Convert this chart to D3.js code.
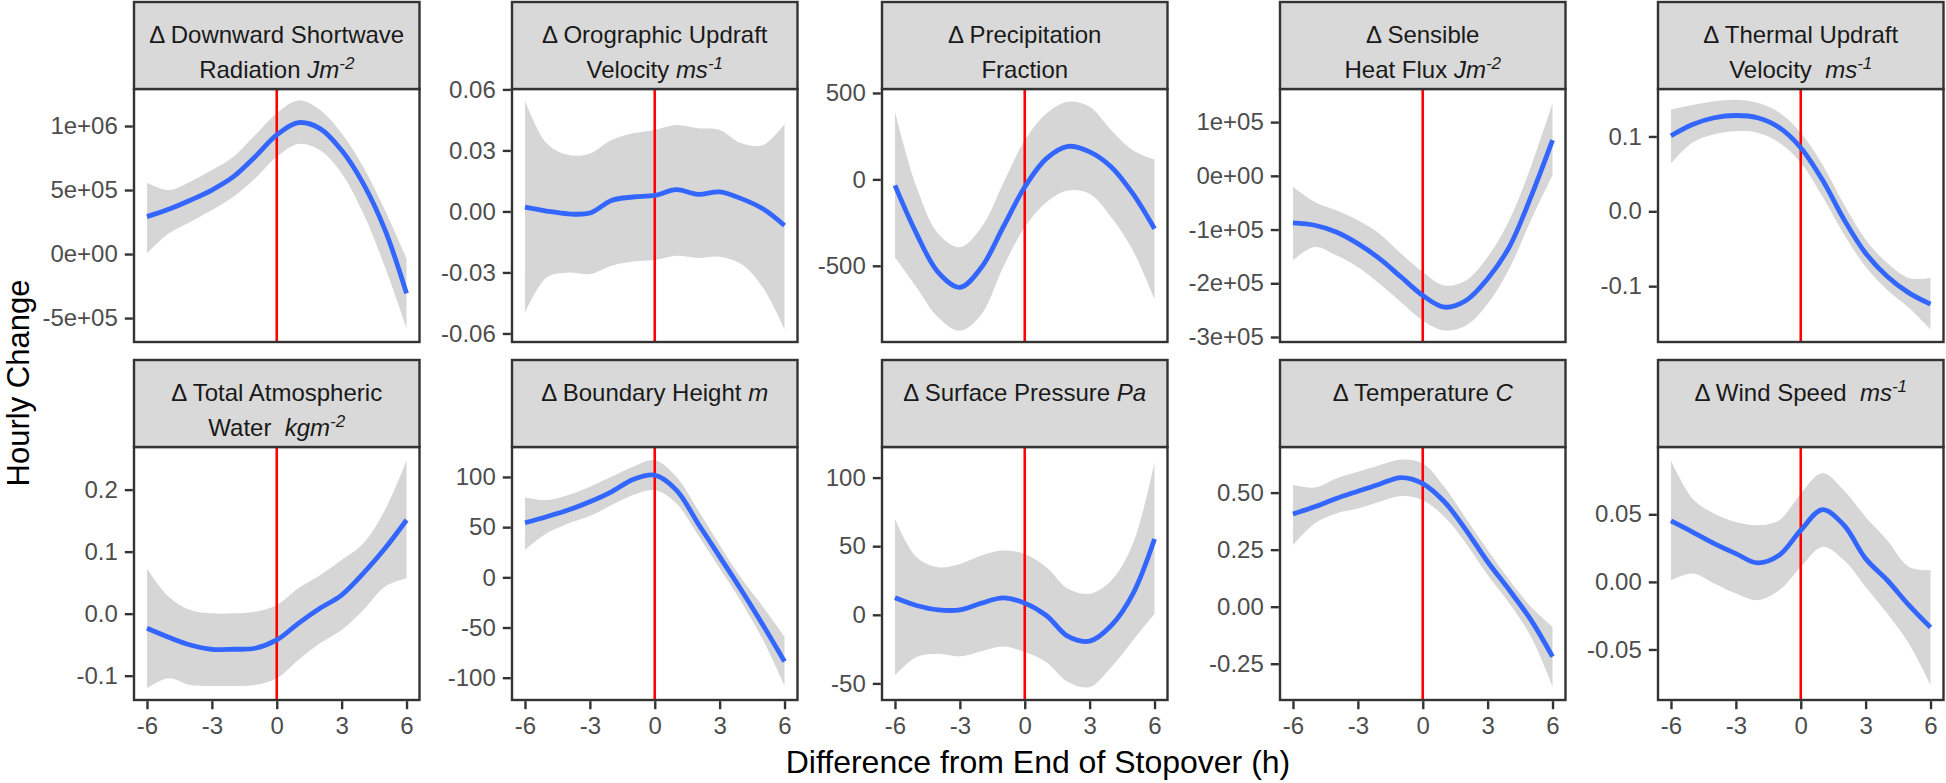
<!DOCTYPE html>
<html>
<head>
<meta charset="utf-8">
<script src="https://cdn.jsdelivr.net/npm/d3@7"></script>
<style>
  html, body { margin: 0; padding: 0; background: #ffffff; }
  svg { display: block; font-family: "Liberation Sans", Arial, sans-serif; }
</style>
</head>
<body>
<svg id="chart" width="1946" height="783"></svg>
<script>
// ---------------- DATA ----------------
const hours = [-6, -5, -4, -3, -2, -1, 0, 1, 2, 3, 4, 5, 6];
const xTicks = [-6, -3, 0, 3, 6];

// 1. Downward Shortwave Radiation
const shortwaveFit = [2.92e5, 3.49e5, 4.2e5, 5.0e5, 6.04e5, 7.6e5, 9.3e5, 1.026e6, 9.8e5, 8.1e5, 5.5e5, 1.9e5, -3.07e5];
const shortwaveHi  = [5.57e5, 5.0e5, 5.65e5, 6.56e5, 7.6e5, 9.3e5, 1.1e6, 1.2e6, 1.125e6, 9.43e5, 6.8e5, 3.44e5, -3.4e4];
const shortwaveLo  = [5e3, 1.6e5, 2.5e5, 3.44e5, 4.48e5, 5.9e5, 7.6e5, 8.6e5, 8.1e5, 6.3e5, 3.18e5, -1.0e5, -5.8e5];
// 2. Orographic Updraft Velocity
const orographicFit = [0.0021, 0.0002, -0.0012, -0.0008, 0.0054, 0.0071, 0.0079, 0.0107, 0.0084, 0.0096, 0.0063, 0.0013, -0.0069];
const orographicHi  = [0.0544, 0.0335, 0.0277, 0.0285, 0.0351, 0.0384, 0.0401, 0.0425, 0.0409, 0.0401, 0.0335, 0.0326, 0.043];
const orographicLo  = [-0.0498, -0.0325, -0.030, -0.0308, -0.0267, -0.0246, -0.0239, -0.0218, -0.0229, -0.0223, -0.0259, -0.0374, -0.058];
// 3. Precipitation Fraction
const precipFit = [-35, -315, -538, -625, -509, -277, -44, 120, 191, 159, 72, -83, -286];
const precipHi  = [391, -44, -315, -393, -277, -25, 226, 381, 449, 420, 284, 168, 114];
const precipLo  = [-451, -625, -799, -876, -780, -509, -277, -132, -64, -83, -219, -412, -692];
// 4. Sensible Heat Flux
const sensibleFit = [-0.877e5, -0.92e5, -1.045e5, -1.262e5, -1.542e5, -1.884e5, -2.226e5, -2.444e5, -2.32e5, -1.915e5, -1.325e5, -0.392e5, 0.665e5];
const sensibleHi  = [-0.205e5, -0.485e5, -0.64e5, -0.827e5, -1.076e5, -1.449e5, -1.791e5, -2.04e5, -1.946e5, -1.511e5, -0.827e5, 0.168e5, 1.35e5];
const sensibleLo  = [-1.573e5, -1.325e5, -1.48e5, -1.698e5, -2.009e5, -2.351e5, -2.693e5, -2.879e5, -2.786e5, -2.382e5, -1.729e5, -0.827e5, 0.012e5];
// 5. Thermal Updraft Velocity
const thermalFit = [0.101, 0.116, 0.125, 0.128, 0.125, 0.112, 0.085, 0.042, -0.011, -0.056, -0.087, -0.109, -0.124];
const thermalHi  = [0.136, 0.142, 0.147, 0.149, 0.145, 0.132, 0.105, 0.0625, 0.009, -0.038, -0.069, -0.089, -0.089];
const thermalLo  = [0.064, 0.092, 0.103, 0.107, 0.105, 0.092, 0.065, 0.020, -0.031, -0.074, -0.105, -0.129, -0.158];
// 6. Total Atmospheric Water
const waterFit = [-0.0236, -0.038, -0.0505, -0.0574, -0.0574, -0.0558, -0.0424, -0.0156, 0.0086, 0.030, 0.065, 0.105, 0.151];
const waterHi  = [0.073, 0.0274, 0.0059, 0.0005, 0.0005, 0.003, 0.014, 0.041, 0.062, 0.0864, 0.113, 0.167, 0.247];
const waterLo  = [-0.120, -0.104, -0.115, -0.1165, -0.1165, -0.115, -0.104, -0.0746, -0.0478, -0.0263, 0.0059, 0.0435, 0.057];
// 7. Boundary Height
const boundaryFit = [54.4, 60.4, 67, 75.3, 85.2, 97.5, 101.8, 86.9, 53.7, 20.6, -12.6, -47.4, -83.9];
const boundaryHi  = [79.6, 77, 82, 90.2, 100.2, 110.1, 116.7, 100.2, 67, 32.2, -1, -29.2, -59];
const boundaryLo  = [27.2, 43.8, 53.7, 61, 72, 82, 86.9, 73.6, 42.1, 9, -24.2, -62.3, -108];
// 8. Surface Pressure
const pressureFit = [12.4, 6.8, 3.6, 3.6, 8.5, 12.4, 8.5, -0.5, -15.8, -19.2, -7.8, 15.3, 55.3];
const pressureHi  = [69.9, 42, 34.7, 37.1, 43.2, 46.8, 44.4, 34.7, 18.9, 15.3, 25, 51.7, 111.2];
const pressureLo  = [-44.2, -30.8, -28.4, -30.3, -26.5, -23.1, -27.2, -34.5, -49, -52.7, -38.1, -18.7, 0.7];
// 9. Temperature
const temperatureFit = [0.406, 0.438, 0.474, 0.506, 0.537, 0.566, 0.54, 0.46, 0.336, 0.197, 0.073, -0.058, -0.219];
const temperatureHi  = [0.533, 0.522, 0.562, 0.591, 0.62, 0.645, 0.628, 0.525, 0.387, 0.248, 0.117, 0.0, -0.088];
const temperatureLo  = [0.27, 0.365, 0.409, 0.43, 0.46, 0.485, 0.467, 0.394, 0.277, 0.139, 0.015, -0.131, -0.35];
// 10. Wind Speed
const windFit = [0.0451, 0.0369, 0.0283, 0.0209, 0.014, 0.0197, 0.0382, 0.0534, 0.0419, 0.0172, 0.0012, -0.0172, -0.0337];
const windHi  = [0.0899, 0.0616, 0.0505, 0.0443, 0.0419, 0.0456, 0.0653, 0.0805, 0.0677, 0.048, 0.0308, 0.0111, 0.0086];
const windLo  = [0.0012, 0.0062, -0.0012, -0.0086, -0.0135, -0.0062, 0.0111, 0.0259, 0.016, -0.0037, -0.0234, -0.0456, -0.0764];

// Strip titles: each line is a list of [text, style] pieces (style: "n" normal, "i" italic, "s" superscript)
const stripTitles = [
  [[["\u0394 Downward Shortwave", "n"]], [["Radiation ", "n"], ["Jm", "i"], ["-2", "s"]]],
  [[["\u0394 Orographic Updraft", "n"]], [["Velocity ", "n"], ["ms", "i"], ["-1", "s"]]],
  [[["\u0394 Precipitation", "n"]], [["Fraction", "n"]]],
  [[["\u0394 Sensible", "n"]], [["Heat Flux ", "n"], ["Jm", "i"], ["-2", "s"]]],
  [[["\u0394 Thermal Updraft", "n"]], [["Velocity\u00a0\u00a0", "n"], ["ms", "i"], ["-1", "s"]]],
  [[["\u0394 Total Atmospheric", "n"]], [["Water\u00a0\u00a0", "n"], ["kgm", "i"], ["-2", "s"]]],
  [[["\u0394 Boundary Height ", "n"], ["m", "i"]]],
  [[["\u0394 Surface Pressure ", "n"], ["Pa", "i"]]],
  [[["\u0394 Temperature ", "n"], ["C", "i"]]],
  [[["\u0394 Wind Speed\u00a0\u00a0", "n"], ["ms", "i"], ["-1", "s"]]]
];

const fits   = [shortwaveFit, orographicFit, precipFit, sensibleFit, thermalFit, waterFit, boundaryFit, pressureFit, temperatureFit, windFit];
const uppers = [shortwaveHi, orographicHi, precipHi, sensibleHi, thermalHi, waterHi, boundaryHi, pressureHi, temperatureHi, windHi];
const lowers = [shortwaveLo, orographicLo, precipLo, sensibleLo, thermalLo, waterLo, boundaryLo, pressureLo, temperatureLo, windLo];

const yTicks = [
  [-5e5, 0, 5e5, 1e6],
  [-0.06, -0.03, 0, 0.03, 0.06],
  [-500, 0, 500],
  [-3e5, -2e5, -1e5, 0, 1e5],
  [-0.1, 0, 0.1],
  [-0.1, 0, 0.1, 0.2],
  [-100, -50, 0, 50, 100],
  [-50, 0, 50, 100],
  [-0.25, 0, 0.25, 0.5],
  [-0.05, 0, 0.05]
];
const yTickLabels = [
  ["-5e+05", "0e+00", "5e+05", "1e+06"],
  ["-0.06", "-0.03", "0.00", "0.03", "0.06"],
  ["-500", "0", "500"],
  ["-3e+05", "-2e+05", "-1e+05", "0e+00", "1e+05"],
  ["-0.1", "0.0", "0.1"],
  ["-0.1", "0.0", "0.1", "0.2"],
  ["-100", "-50", "0", "50", "100"],
  ["-50", "0", "50", "100"],
  ["-0.25", "0.00", "0.25", "0.50"],
  ["-0.05", "0.00", "0.05"]
];
const yDomains = [
  [-6.87e5, 1.289e6],
  [-0.0642, 0.0602],
  [-941, 523],
  [-3.093e5, 1.616e5],
  [-0.1746, 0.1634],
  [-0.1392, 0.2687],
  [-122.2, 129.85],
  [-62.1, 122.3],
  [-0.409, 0.70],
  [-0.0874, 0.0998]
];

// ---------------- LAYOUT ----------------
const colLefts = [134, 512, 882, 1280, 1658];
const panelW = 285.5;
const stripTops = [2, 360];
const stripH = 87;
const plotH = 253;
const border = "#333333";

const svg = d3.select("#chart");
const defs = svg.append("defs");
const xScaleBase = d3.scaleLinear().domain([-6.6, 6.6]);

fits.forEach((fit, i) => {
  const row = Math.floor(i / 5), col = i % 5;
  const left = colLefts[col];
  const sTop = stripTops[row];
  const pTop = sTop + stripH;
  const g = svg.append("g");

  const x = xScaleBase.copy().range([left, left + panelW]);
  const y = d3.scaleLinear().domain(yDomains[i]).range([pTop + plotH, pTop]);

  const clipId = "clip" + i;
  defs.append("clipPath").attr("id", clipId)
    .append("rect").attr("x", left).attr("y", pTop).attr("width", panelW).attr("height", plotH);

  g.append("rect").attr("x", left).attr("y", pTop).attr("width", panelW).attr("height", plotH)
    .attr("fill", "#ffffff");

  const pts = hours.map((h, k) => ({ h, f: fit[k], hi: uppers[i][k], lo: lowers[i][k] }));
  const curve = d3.curveCatmullRom.alpha(0.5);
  const area = d3.area().x(d => x(d.h)).y0(d => y(d.lo)).y1(d => y(d.hi)).curve(curve);
  const line = d3.line().x(d => x(d.h)).y(d => y(d.f)).curve(curve);

  const inner = g.append("g").attr("clip-path", `url(#${clipId})`);
  inner.append("path").datum(pts).attr("d", area).attr("fill", "#d6d6d6");
  inner.append("line").attr("x1", x(0)).attr("x2", x(0)).attr("y1", pTop).attr("y2", pTop + plotH)
    .attr("stroke", "#ff0000").attr("stroke-width", 2.6);
  inner.append("path").datum(pts).attr("d", line).attr("fill", "none")
    .attr("stroke", "#3366ff").attr("stroke-width", 4.8).attr("stroke-linejoin", "round");

  g.append("rect").attr("x", left).attr("y", pTop).attr("width", panelW).attr("height", plotH)
    .attr("fill", "none").attr("stroke", border).attr("stroke-width", 2.4);

  const yAxis = d3.axisLeft(y).tickValues(yTicks[i]).tickSize(8).tickPadding(7)
    .tickFormat((d, k) => yTickLabels[i][k]);
  const ya = g.append("g").attr("transform", `translate(${left - 1.2},0)`).call(yAxis);
  ya.select(".domain").remove();
  ya.selectAll(".tick line").attr("stroke", border).attr("stroke-width", 2.4);
  ya.selectAll(".tick text").attr("fill", "#4d4d4d").attr("font-size", 24)
    .attr("font-family", '"Liberation Sans", Arial, sans-serif');

  if (row === 1) {
    const xAxis = d3.axisBottom(x).tickValues(xTicks).tickSize(8).tickPadding(8).tickFormat(d3.format("d"));
    const xa = g.append("g").attr("transform", `translate(0,${pTop + plotH + 1.2})`).call(xAxis);
    xa.select(".domain").remove();
    xa.selectAll(".tick line").attr("stroke", border).attr("stroke-width", 2.4);
    xa.selectAll(".tick text").attr("fill", "#4d4d4d").attr("font-size", 24)
      .attr("font-family", '"Liberation Sans", Arial, sans-serif')
      .text(d => String(d).replace("\u2212", "-"));
  }

  g.append("rect").attr("x", left).attr("y", sTop).attr("width", panelW).attr("height", stripH)
    .attr("fill", "#d9d9d9").attr("stroke", border).attr("stroke-width", 2.4);
  const lines = stripTitles[i];
  const baselines = [sTop + 41, sTop + 76];
  lines.forEach((pieces, li) => {
    const t = g.append("text").attr("x", left + panelW / 2).attr("y", baselines[li])
      .attr("text-anchor", "middle").attr("font-size", 24).attr("fill", "#1a1a1a");
    pieces.forEach(([txt, style]) => {
      const ts = t.append("tspan").text(txt);
      if (style === "i") ts.attr("font-style", "italic");
      if (style === "s") ts.attr("font-style", "italic").attr("font-size", 17).attr("baseline-shift", "55%");
    });
  });
});

svg.append("text").attr("x", 1038).attr("y", 773).attr("text-anchor", "middle")
  .attr("font-size", 32).attr("fill", "#000").text("Difference from End of Stopover (h)");
svg.append("text").attr("transform", "translate(29,383) rotate(-90)").attr("text-anchor", "middle")
  .attr("font-size", 31).attr("fill", "#000").text("Hourly Change");
</script>
</body>
</html>
